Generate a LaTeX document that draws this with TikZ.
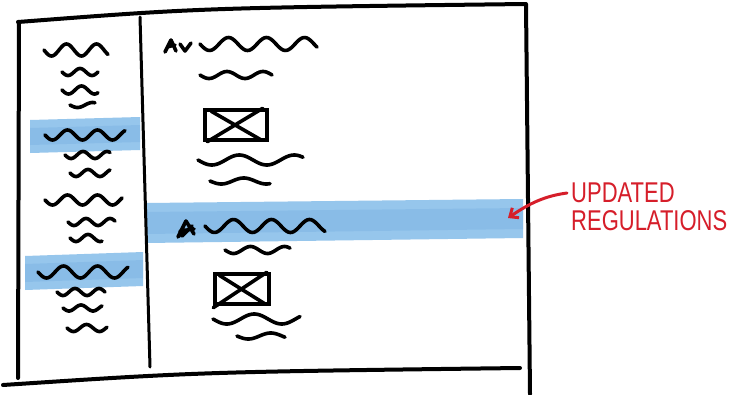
\documentclass[tikz,border=0pt]{standalone}
\usepackage{fontspec}
\setmainfont{Liberation Sans}
\usetikzlibrary{arrows.meta,calc}
\definecolor{hlblue}{RGB}{150,198,236}
\definecolor{hlcore}{RGB}{122,178,226}
\definecolor{penred}{RGB}{214,30,42}
\newcommand\wavy[5]{\draw[squig] plot[domain=#1:#2,samples=70,smooth] (\x,{#3+#5*sin((\x-#1)/#4*360)});}
\tikzset{
  frame/.style={line width=4pt, line cap=round, line join=round, black},
  squig/.style={line width=3.6pt, line cap=round, line join=round, black},
  hl/.style={fill=hlblue},
  hlc/.style={fill=hlcore, opacity=0.45},
  imgbox/.style={draw, line width=3.4pt, minimum width=#1, minimum height=30pt, inner sep=0pt},
  redtext/.style={text=penred, anchor=west, font=\fontsize{22}{24}\selectfont, inner sep=0pt, yscale=1.3, transform shape},
}
\begin{document}
\begin{tikzpicture}[x=1pt,y=-1pt]
\useasboundingbox (0,0) rectangle (731,394);
\fill[white] (0,0) rectangle (731,394);
% highlights
\fill[hl] (30,120) -- (140,117) -- (140,150) -- (30,153) -- cycle;
\fill[hlc] (30,128) -- (140,125) -- (140,142) -- (30,145) -- cycle;
\fill[hl] (25,256) -- (143,252) -- (143,286) -- (25,290) -- cycle;
\fill[hlc] (25,264) -- (143,260) -- (143,278) -- (25,282) -- cycle;
\fill[hl] (146,203) -- (523,199) -- (523,238) -- (146,243) -- cycle;
\fill[hlc] (146,212) -- (523,208) -- (523,229) -- (146,234) -- cycle;
% frame
\draw[frame] (18,22) .. controls (200,8) .. (525,4);
\draw[frame] (19,22) -- (18,378);
\draw[frame] (526,4) -- (530,394);
\draw[frame] (3,385) .. controls (200,372) .. (520,368);
\draw[frame, line width=3pt] (140,17) -- (150,367);
% sidebar
\wavy{44}{108}{50}{30}{6}
\wavy{62}{98}{72}{24}{3.5}
\wavy{62}{98}{90}{26}{4}
\wavy{70}{95}{105}{30}{2.5}
\wavy{45}{125}{135}{30}{5}
\wavy{65}{110}{155}{24}{3.5}
\wavy{70}{110}{173}{24}{3.5}
\wavy{45}{122}{200}{30}{5}
\wavy{68}{115}{222}{24}{3.5}
\wavy{70}{102}{238}{24}{3.5}
\wavy{38}{128}{272}{34}{6}
\wavy{57}{105}{292}{24}{3.5}
\wavy{63}{102}{308}{24}{3}
\wavy{67}{107}{328}{26}{3.5}
% article 1
\draw[squig] (165,52) -- (171,40) -- (176,51) (167,47) -- (175,45);
\draw[squig] (180,44) -- (185,51) -- (191,43);
\wavy{200}{317}{44}{38}{6.5}
\wavy{200}{272}{75}{36}{3.5}
\node[imgbox=62pt] (img1) at (236,125) {};
\draw[squig] ($(img1.north west)+(8,3)$) -- ($(img1.south east)+(-8,-2)$);
\draw[squig] ($(img1.south west)+(4,0)$) -- ($(img1.north east)+(-6,0)$);
\wavy{198}{303}{160}{55}{5}
\wavy{210}{270}{181}{45}{3}
% article 2
\draw[squig] (178,237) -- (186,221) -- (194,234) (180,231) -- (194,229) (182,236) -- (192,226);
\wavy{205}{325}{226}{38}{6.5}
\wavy{225}{290}{250}{34}{3.5}
\node[imgbox=54pt] (img2) at (242,289) {};
\draw[squig] ($(img2.north west)+(6,3)$) -- ($(img2.south east)+(-6,-2)$);
\draw[squig] ($(img2.south west)+(0,2)$) -- ($(img2.north east)+(-4,0)$);
\wavy{213}{300}{319}{55}{5}
\wavy{237}{285}{336}{45}{3}
% annotation
\node[redtext] (upd) at (571,193) {UPDATED};
\node[redtext] (reg) at (571,221) {REGULATIONS};
\coordinate (tip) at (508,218);
\draw[penred, line width=3pt, line cap=round, -{Straight Barb[length=7pt,width=12pt]}] ($(upd.west)+(-4,0)$) .. controls (545,196) and (530,203) .. (tip);
\end{tikzpicture}
\end{document}
